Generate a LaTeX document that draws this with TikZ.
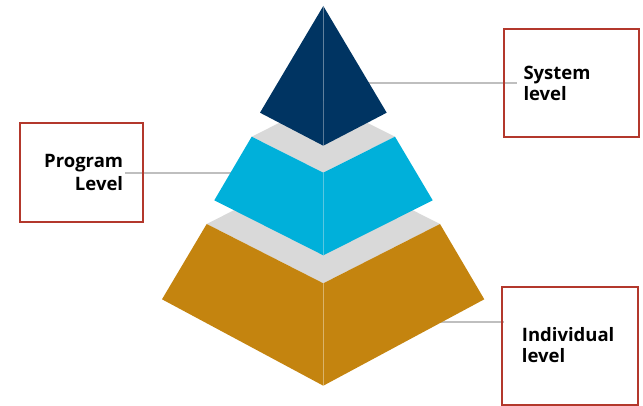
\documentclass[tikz,border=0pt]{standalone}
\usepackage{fontspec}
\setmainfont{Open Sans}
\usetikzlibrary{positioning}

\definecolor{navy}{HTML}{003462}
\definecolor{sky}{HTML}{00B0DA}
\definecolor{gold}{HTML}{C4840F}
\definecolor{shelf}{HTML}{D9D9D9}
\definecolor{boxred}{HTML}{B3382C}
\definecolor{linegray}{HTML}{BFBFBF}

\tikzset{
  lvlbox/.style={draw=boxred, line width=1.8pt, inner sep=0pt},
  lvltext/.style={font=\bfseries\fontsize{18.5}{21}\selectfont, inner sep=0pt},
  link/.style={draw=linegray, line width=1.7pt},
  seam/.style={draw=white, opacity=0.2, line width=0.6pt}
}

\begin{document}
\begin{tikzpicture}[x=1pt, y=-1pt]
  \useasboundingbox (0,0) rectangle (643,406);

  % connectors (behind the pyramid)
  \coordinate (systip) at (360,83.3);
  \coordinate (sysend) at (516.7,83.3);
  \coordinate (progtip) at (240,172.7);
  \coordinate (progend) at (125,172.7);
  \coordinate (indtip) at (430,321.7);
  \coordinate (indend) at (504,321.7);
  \draw[link] (systip) -- (sysend);
  \draw[link] (progtip) -- (progend);
  \draw[link] (indtip) -- (indend);

  % bottom tier
  \fill[shelf] (206.7,224) -- (323.3,165) -- (440,224) -- (323.3,283.3) -- cycle;
  \fill[gold] (206.7,224) -- (323.3,283.3) -- (323.3,385.7) -- (162,299.3) -- cycle;
  \fill[gold] (440,224) -- (323.3,283.3) -- (323.3,385.7) -- (484.3,299.3) -- cycle;
  \draw[seam] (323.3,283.3) -- (323.3,385.7);

  % middle tier
  \fill[shelf] (251.7,136.7) -- (323.3,100.7) -- (395,136.7) -- (323.3,172.7) -- cycle;
  \fill[sky] (251.7,136.7) -- (323.3,172.7) -- (323.3,255.3) -- (214.3,200.3) -- cycle;
  \fill[sky] (395,136.7) -- (323.3,172.7) -- (323.3,255.3) -- (432.7,200.3) -- cycle;
  \draw[seam] (323.3,172.7) -- (323.3,255.3);

  % top tier
  \fill[navy] (323.3,6) -- (323.3,145.7) -- (260,112.7) -- cycle;
  \fill[navy] (323.3,6) -- (323.3,145.7) -- (386.7,112.7) -- cycle;
  \draw[seam] (323.3,6) -- (323.3,145.7);

  % label boxes
  \node[lvlbox, minimum width=135.3pt, minimum height=108.3pt] (sysbox) at (571.7,83.2) {};
  \node[lvlbox, minimum width=123.3pt, minimum height=98.4pt] (progbox) at (81.7,172.5) {};
  \node[lvlbox, minimum width=136.6pt, minimum height=118.3pt] (indbox) at (570,345.9) {};

  % base anchor sits on the last line
  \node[lvltext, align=left, anchor=base west] (systxt) at (523.3,101) {System\\level};
  \node[lvltext, align=right, anchor=base east, font=\bfseries\fontsize{18.5}{23.5}\selectfont] (progtxt) at (123.3,191) {Program\\Level};
  \node[lvltext, align=left, anchor=base west] (indtxt) at (521.7,362.7) {Individual\\level};
\end{tikzpicture}
\end{document}
